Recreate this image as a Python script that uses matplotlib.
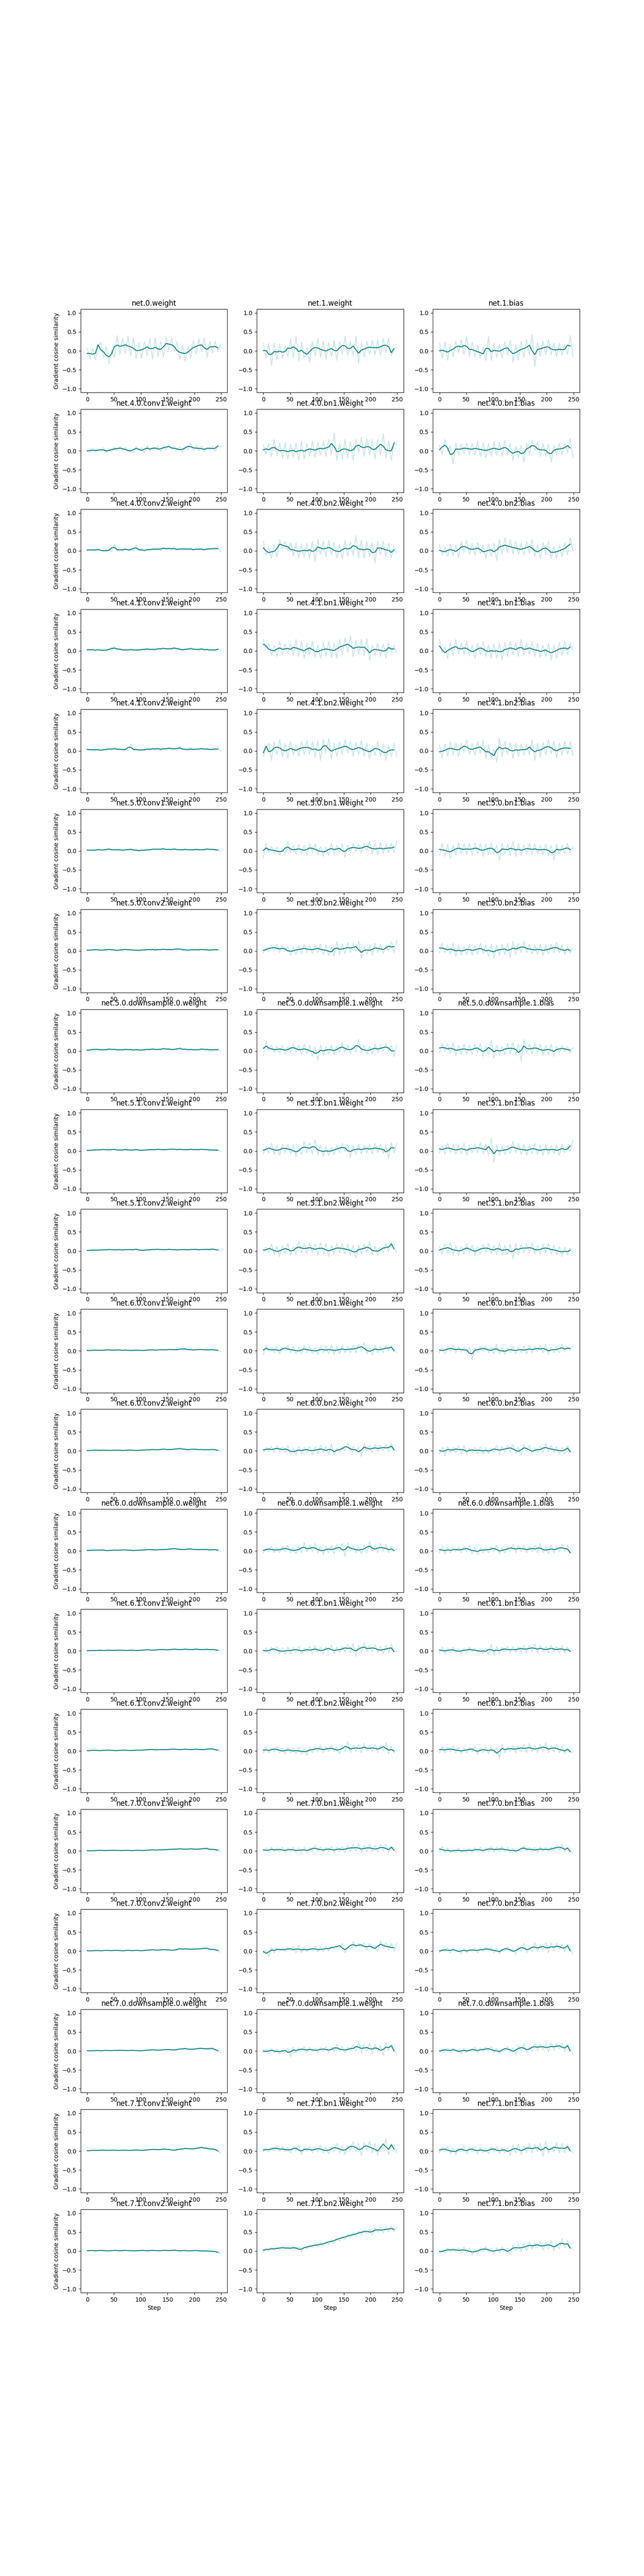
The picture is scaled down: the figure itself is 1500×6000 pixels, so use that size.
import matplotlib
matplotlib.use("Agg")
import matplotlib.pyplot as plt
import numpy as np

# gradient cosine similarity, every ~5 steps (x100)
net_0_weight = [7,-20,6,-24,10,22,-17,11,-35,3,-18,40,-10,34,-7,39,-14,34,-21,22,-20,25,-13,34,-23,35,-16,25,-17,38,1,34,-2,24,-23,15,-27,13,-20,26,-9,32,-3,34,-18,25,-5,26,-3,18]
net_1_weight = [20,-19,20,-38,20,-24,18,-20,13,-17,32,-19,40,-27,23,-20,10,-29,25,-14,32,-17,25,-22,21,-15,27,-25,25,-10,38,-12,25,-12,38,-33,20,-16,25,-9,28,-11,28,-12,33,-5,34,-12,2,10]
net_1_bias = [20,-20,23,-25,18,-16,25,-5,30,-10,38,-15,22,-15,15,-20,10,-26,38,-25,20,-18,18,-20,25,-12,28,-30,15,-25,25,-18,30,-12,42,-42,22,-15,25,-10,30,-10,20,-15,20,-12,18,-10,40,-15]

net_4_0_conv1_weight = [3,-4,6,-3,5,-2,8,-4,4,-3,10,0,12,2,9,-2,4,-5,12,0,8,-6,15,-1,10,3,12,-3,14,2,18,4,12,0,10,-4,12,3,20,2,14,0,13,-2,10,2,12,-1,15,10]
net_4_0_bn1_weight = [15,-10,20,-15,30,-12,20,-20,22,-22,18,-18,20,-25,25,-22,20,-15,25,-18,22,-12,25,-15,30,-10,48,-25,20,-22,30,-20,25,-25,30,-5,35,-15,32,-10,30,-22,30,-10,45,-20,25,-25,25,15]
net_4_0_bn1_bias = [15,-10,30,0,15,-35,20,-10,18,-8,22,-10,20,-12,25,-15,22,-18,20,-15,25,-12,22,-15,28,-10,20,-25,12,-18,15,-30,20,-10,28,0,25,-15,20,-15,18,-30,15,-12,20,-10,22,-5,33,-18]

net_4_0_conv2_weight = [4,0,5,-1,6,0,3,-3,5,-2,18,0,6,-2,8,0,6,-1,15,0,6,-2,5,0,7,1,8,0,10,3,9,2,10,1,7,2,8,1,9,0,7,1,8,0,7,2,9,1,12,-2]
net_4_0_bn2_weight = [25,-10,10,-20,15,-18,30,5,25,0,22,-15,20,-20,18,-18,20,-20,25,-28,30,-10,25,-15,28,-10,22,-20,18,-22,28,-15,25,-12,40,-18,28,-20,25,-15,22,-32,25,-10,25,-15,20,-18,10,-5]
net_4_0_bn2_bias = [15,-12,10,-15,18,-12,15,-18,25,-5,28,-10,20,-12,22,-8,15,-20,18,-15,20,-25,30,-10,35,-5,30,-8,25,-10,20,-12,25,-8,30,-15,15,-20,22,-10,25,-20,12,-20,15,-15,22,-10,35,0]

net_4_1_conv1_weight = [5,0,6,-1,5,0,4,-2,6,1,12,2,8,0,5,-1,6,0,5,-1,6,0,8,1,7,0,8,2,9,3,8,2,10,4,8,0,6,1,9,2,7,0,8,1,6,0,5,-1,6,2]
net_4_1_bn1_weight = [30,5,20,-12,15,-15,25,-10,18,-8,20,-12,30,-15,25,-20,20,-10,25,-18,15,-20,22,-15,25,-18,22,-20,30,-10,35,-5,40,-15,28,-10,30,-12,32,-25,15,-12,20,-15,18,-20,22,-5,15,-5]
net_4_1_bn1_bias = [30,-5,10,-20,22,-12,30,-8,20,-10,25,-12,15,-20,20,-10,25,-15,15,-18,18,-20,20,-25,22,-15,25,-10,22,-15,30,-12,20,-10,25,-15,20,-18,15,-15,20,-25,15,-20,22,-12,25,-10,20,0]

net_4_1_conv2_weight = [6,1,5,0,6,-1,5,0,8,1,9,2,7,1,6,0,18,1,6,0,5,-1,7,1,8,2,9,1,8,2,10,3,9,1,12,3,7,0,8,1,7,1,9,2,8,1,7,0,10,-2]
net_4_1_bn2_weight = [-15,5,20,-25,25,-10,30,-15,20,-20,25,-12,18,-15,25,-10,28,-10,25,-18,28,-25,30,-5,32,-22,20,-15,25,-10,30,-5,25,-15,22,-10,28,-15,20,-20,15,-12,25,-15,18,-25,15,-15,20,-15]
net_4_1_bn2_bias = [15,-20,18,-15,25,-12,22,-15,20,-5,30,-10,20,-12,25,-8,28,-20,15,-20,5,-30,35,-15,25,-10,22,-20,20,-15,18,-12,18,-10,30,-25,20,-18,22,-10,30,-8,25,-20,20,-12,25,-10,25,-12]

net_5_0_conv1_weight = [3,0,4,-1,5,1,4,0,8,1,5,0,6,-1,5,0,7,0,5,-2,4,-1,5,0,6,2,7,1,8,2,6,1,7,2,5,0,6,1,5,0,6,1,5,0,7,2,6,1,5,-2]
net_5_0_bn1_weight = [-18,20,-5,12,-8,10,-12,8,-10,25,-5,15,-10,18,-8,15,-12,20,-5,18,-10,12,-15,10,-12,20,-8,15,-5,18,-18,15,-5,20,-2,18,-5,20,0,25,-8,20,-10,22,-8,18,-5,20,-5,25]
net_5_0_bn1_bias = [-12,20,-15,18,-20,15,-12,22,-8,18,-10,20,-12,22,-8,20,-15,18,-10,22,-8,15,-25,20,-10,18,-12,25,-15,20,-12,15,-8,20,-10,18,-8,15,-10,18,-12,15,-25,18,-10,15,-8,20,-5,12]

net_5_0_conv2_weight = [3,0,4,1,5,0,4,0,6,1,5,-1,4,0,6,1,5,0,4,-1,4,0,5,1,6,0,5,1,6,2,5,1,6,2,8,1,5,0,4,1,5,0,6,1,5,0,4,1,5,0]
net_5_0_bn2_weight = [-5,8,-2,15,0,18,-5,15,-2,12,-12,10,-10,15,-8,18,-5,15,-8,15,-5,18,-10,15,-12,10,-15,25,-10,18,-8,22,-5,20,-2,25,-20,12,-10,15,-12,20,-5,18,-8,15,0,25,-5,28]
net_5_0_bn2_bias = [-5,20,-5,15,-10,20,-15,15,-12,12,-10,18,-12,15,-10,20,-8,15,-15,18,-20,15,-12,18,-10,20,-18,25,-10,20,-5,25,-5,18,-8,15,-10,18,-12,15,-10,18,-5,22,-5,15,-10,12,-5,8]

net_5_0_downsample_0_weight = [3,0,5,2,6,1,5,0,7,2,6,1,5,0,6,1,6,0,5,1,4,0,6,1,7,2,6,1,8,3,7,2,6,1,10,2,7,1,6,1,5,0,7,2,6,1,5,0,7,-2]
net_5_0_downsample_1_weight = [-12,25,0,15,-5,12,-5,15,-8,12,-5,20,-3,15,-10,18,-8,15,-15,12,-25,15,-12,12,-8,15,-10,12,-5,22,-2,15,-8,15,-2,30,-5,15,-10,12,-8,18,-5,15,-2,20,0,15,-15,15]
net_5_0_downsample_1_bias = [-5,20,-2,18,-8,22,-12,15,-10,18,-8,15,-10,18,-5,20,-15,12,-10,28,-20,15,-12,12,-10,20,-8,22,-10,18,-27,30,-5,18,-8,20,-5,18,-12,15,-10,18,-15,12,-5,15,-2,12,-5,8]

net_5_1_conv1_weight = [2,0,3,1,4,1,5,2,4,1,6,1,4,0,5,1,4,0,5,1,3,0,4,1,5,1,6,2,5,1,6,2,7,1,6,2,5,1,6,2,5,1,6,2,5,1,4,0,5,-2]
net_5_1_bn1_weight = [-8,12,-5,20,-10,15,-12,18,-5,18,-8,15,-15,10,-10,25,-5,22,-8,30,-10,15,-15,12,-12,10,-10,15,-5,20,-2,18,-18,15,-10,18,-8,15,-5,18,-8,20,-5,18,-8,15,-20,22,-5,20]
net_5_1_bn1_bias = [-5,15,-8,20,-5,18,-10,15,-8,20,-12,15,-5,18,-5,22,-8,18,-12,35,-30,15,-12,12,-10,15,-8,25,-5,20,-10,18,-12,15,-8,20,-10,15,-12,18,-10,15,-8,15,-12,18,-5,12,-2,28]

net_5_1_conv2_weight = [2,0,3,1,3,1,4,1,5,2,4,1,5,1,4,2,5,1,6,2,3,0,4,1,5,2,6,2,5,1,6,2,5,1,4,2,5,1,5,2,6,1,5,2,6,1,7,2,5,-1]
net_5_1_bn2_weight = [-5,10,-5,18,-10,12,-15,15,-8,20,-12,12,-10,25,-5,20,-8,22,-5,18,-10,22,-8,20,-15,15,-10,20,-5,20,-8,18,-12,15,-20,15,-8,18,-5,25,-10,12,-12,10,-5,20,-2,22,15,-5]
net_5_1_bn2_bias = [12,-8,18,-5,22,-10,15,-12,12,-10,20,-5,15,-12,10,-8,18,-5,20,-8,15,-10,22,-12,15,-10,18,-22,20,-10,18,-5,20,-5,22,-8,15,-10,18,-5,20,-8,15,-10,12,-15,10,-12,8,-5]

net_6_0_conv1_weight = [2,0,2,1,3,0,3,1,4,1,3,1,4,0,3,1,2,0,3,1,2,0,3,1,4,1,3,2,4,1,5,2,5,1,6,3,8,2,5,1,4,2,5,2,4,1,5,1,4,-2]
net_6_0_bn1_weight = [-10,15,-2,10,-5,12,-8,10,0,15,-5,12,-8,10,-10,15,-5,12,-8,10,-10,12,-5,12,-8,15,-10,12,-8,15,-5,12,-5,15,-5,18,0,22,-8,10,-12,15,-5,12,-5,15,0,15,5,-5]
net_6_0_bn1_bias = [-5,10,-8,12,-2,15,-5,12,-3,10,-5,10,-23,8,-5,12,-2,15,-5,10,-8,18,-8,10,-10,8,-5,12,-8,10,-5,12,-8,15,-5,12,-2,15,-5,18,-10,10,-5,12,-5,18,-2,12,2,12]

net_6_0_conv2_weight = [2,0,2,1,3,0,3,1,2,0,3,1,3,0,2,1,3,1,2,0,3,1,4,1,5,2,4,2,6,3,5,2,6,3,8,4,6,2,5,3,6,2,5,2,4,2,5,2,4,-2]
net_6_0_bn2_weight = [-5,10,-2,12,-5,15,-2,12,-5,15,-10,8,-12,12,-8,10,-5,12,-10,12,-8,15,-5,12,-10,18,-12,8,-5,12,0,22,-2,12,-5,10,-15,20,0,15,-5,18,-2,15,0,18,-2,20,5,0]
net_6_0_bn2_bias = [-8,10,-12,12,-5,10,-5,15,-8,15,-10,8,-5,10,-8,12,-10,10,-8,8,-5,15,-8,12,-5,15,-2,18,-8,10,-12,18,-2,15,-10,8,-5,12,-5,20,-2,15,-5,12,-8,10,-10,15,0,-5]

net_6_0_downsample_0_weight = [2,0,3,1,3,1,4,0,2,0,3,1,3,1,4,1,3,0,2,1,3,1,4,2,5,1,4,2,5,2,6,3,8,4,6,2,5,3,7,3,5,2,5,2,6,1,4,2,5,-2]
net_6_0_downsample_1_weight = [-5,8,-2,12,-5,10,-5,12,-2,15,-5,10,-8,12,-5,22,-3,15,-2,20,-5,12,-10,12,-5,15,-8,18,-2,20,-15,22,0,15,-5,12,-8,15,-5,25,0,15,-5,20,-2,18,-5,12,-2,5]
net_6_0_downsample_1_bias = [-5,12,-8,10,-5,8,-2,10,-5,12,-2,15,-8,10,-10,8,-5,10,-5,12,-2,15,-8,8,-5,12,-2,18,-5,15,-2,15,-5,12,-2,15,-5,20,-5,12,-8,15,-5,12,-2,18,-2,15,-5,-5]

net_6_1_conv1_weight = [1,0,2,0,2,1,2,0,3,1,2,1,3,1,2,0,3,1,2,0,3,1,4,2,3,1,4,2,5,2,4,2,6,3,5,2,6,3,5,2,6,3,5,2,6,2,5,2,4,-1]
net_6_1_bn1_weight = [-5,8,-8,10,-2,12,-8,8,-10,10,-8,10,-5,12,-8,8,-5,12,-8,15,-5,10,-8,12,-2,15,-8,10,-5,12,-2,18,-5,20,-15,15,-5,22,-2,15,-2,18,-5,12,-8,15,-5,18,-2,-2]
net_6_1_bn1_bias = [-5,10,-8,8,-5,10,-5,6,-8,8,-5,10,-2,8,-5,6,-8,8,-10,18,-12,12,-8,10,-2,12,-5,12,-5,12,-2,15,-5,15,-2,18,-5,15,-2,12,-5,15,-2,12,-5,15,-5,10,-2,0]

net_6_1_conv2_weight = [1,0,2,1,2,0,2,1,3,1,2,0,2,1,3,1,2,0,3,1,3,1,4,2,5,2,4,2,5,2,5,3,6,3,5,2,6,3,5,2,6,3,5,2,6,3,8,2,5,-2]
net_6_1_bn2_weight = [-5,10,-5,8,-2,12,-5,8,-8,10,-5,8,-8,10,-10,8,-12,10,-5,12,-2,15,-5,12,-2,15,-2,12,-8,15,-2,25,-5,15,-2,18,-5,20,0,15,-2,18,-5,15,0,22,-8,12,-5,5]
net_6_1_bn2_bias = [-5,12,-5,10,-2,12,-5,10,-8,8,-5,10,-2,12,-10,8,-5,12,-8,10,-5,8,-20,18,-5,12,-2,15,-5,15,-2,18,-5,20,-2,15,-5,18,-2,22,-5,15,-2,18,-5,12,-8,8,0,-5]

net_7_0_conv1_weight = [1,0,1,0,2,1,2,0,2,1,2,1,2,0,2,1,2,0,2,1,2,0,3,1,4,2,3,2,4,2,5,3,6,3,7,4,6,3,7,4,6,3,7,4,9,3,6,2,5,-2]
net_7_0_bn1_weight = [-2,8,-5,10,-2,8,-2,10,-5,8,-2,10,-5,8,-5,10,-5,8,-2,15,-2,12,-5,10,-2,12,-5,10,-2,12,-5,15,-2,18,-2,20,-5,15,-2,18,-2,15,-5,18,0,18,-5,12,8,-5]
net_7_0_bn1_bias = [-2,12,-5,8,-5,5,-5,8,-5,6,-5,8,-5,8,-2,10,-5,8,-2,12,-2,10,-2,12,-2,10,-5,8,-5,5,-2,15,0,10,-2,10,-5,12,-2,10,-2,10,0,15,2,18,-2,10,5,-8]

net_7_0_conv2_weight = [1,0,1,0,2,0,1,1,2,0,2,1,2,0,1,1,2,0,2,1,1,0,3,1,4,2,3,1,5,2,4,1,3,1,8,3,7,4,6,3,7,3,8,4,10,3,6,2,5,-4]
net_7_0_bn2_weight = [-5,2,-15,10,-5,8,0,8,-2,10,0,12,-5,15,-5,10,-2,8,0,12,-2,10,-2,12,0,12,5,15,8,20,-5,12,5,25,8,20,10,22,2,20,5,15,-2,27,8,22,2,20,-2,20]
net_7_0_bn2_bias = [-5,5,-2,8,-5,8,-2,5,-8,8,-5,5,-2,8,-5,8,-2,10,0,10,-5,8,-8,5,0,12,-2,8,-10,12,-2,20,-5,12,-2,22,-2,18,2,22,-5,22,0,20,5,18,-2,18,10,-10]

net_7_0_downsample_0_weight = [1,0,1,0,2,0,1,1,2,0,2,1,2,1,2,0,2,1,2,0,1,0,3,1,4,2,3,1,4,2,5,2,4,1,7,3,8,4,6,3,7,4,9,4,8,3,10,2,5,-5]
net_7_0_downsample_1_weight = [-5,5,-8,8,-5,5,-8,5,-5,8,-15,10,-5,8,-2,12,-5,10,-2,8,-5,10,-2,12,-5,10,-2,18,-2,12,-5,10,-2,15,-2,25,-5,18,-2,20,-8,18,-2,15,-12,20,0,18,10,-10]
net_7_0_downsample_1_bias = [-5,5,-2,8,-5,8,-2,5,-8,8,-5,5,-2,10,-5,8,-2,10,0,12,-5,8,-8,5,0,12,-2,8,-10,15,-2,20,-5,12,-2,22,0,20,2,20,-2,22,2,20,5,22,-2,18,10,-10]

net_7_1_conv1_weight = [1,0,2,1,2,1,3,1,2,1,3,1,2,1,3,1,2,1,3,2,2,1,3,2,5,3,5,2,6,4,5,2,3,1,6,3,8,5,7,4,8,5,12,6,10,3,8,2,6,-7]
net_7_1_bn1_weight = [-2,8,-2,10,0,15,-2,12,-2,10,-5,12,0,15,-10,10,-2,12,-5,10,-2,15,-5,10,-8,12,-2,20,-5,15,-10,15,0,25,-2,20,-12,22,2,25,-5,20,-12,12,5,32,-10,18,15,-5]
net_7_1_bn1_bias = [-5,10,-2,12,-8,8,-10,8,-2,12,-8,10,-2,12,-8,10,-5,8,-8,12,-2,12,-8,10,-5,10,-12,15,-5,18,-10,12,-5,20,-5,18,-2,20,-15,25,-5,12,-2,22,-5,20,-5,18,5,-5]

net_7_1_conv2_weight = [1,0,2,0,1,1,2,0,1,0,2,1,1,0,2,1,1,0,1,0,2,1,1,0,2,1,1,0,2,1,2,0,3,1,1,0,2,0,1,0,2,0,1,-1,1,-1,0,-2,-1,-7]
net_7_1_bn2_weight = [-3,7,0,9,2,10,3,13,4,12,3,12,5,11,-2,12,5,16,8,20,10,22,13,25,18,30,20,35,26,40,30,44,35,48,38,52,43,56,46,58,42,60,50,62,48,64,50,66,52,62]
net_7_1_bn2_bias = [-5,2,-5,8,-2,8,-2,8,-5,10,-5,8,-10,5,-8,8,-2,12,-2,8,-8,8,-5,10,-2,8,-10,15,0,18,-2,20,0,25,5,22,8,25,2,25,5,28,0,22,5,33,8,28,10,5]

panels = [
    ("net.0.weight", net_0_weight), ("net.1.weight", net_1_weight), ("net.1.bias", net_1_bias),
    ("net.4.0.conv1.weight", net_4_0_conv1_weight), ("net.4.0.bn1.weight", net_4_0_bn1_weight), ("net.4.0.bn1.bias", net_4_0_bn1_bias),
    ("net.4.0.conv2.weight", net_4_0_conv2_weight), ("net.4.0.bn2.weight", net_4_0_bn2_weight), ("net.4.0.bn2.bias", net_4_0_bn2_bias),
    ("net.4.1.conv1.weight", net_4_1_conv1_weight), ("net.4.1.bn1.weight", net_4_1_bn1_weight), ("net.4.1.bn1.bias", net_4_1_bn1_bias),
    ("net.4.1.conv2.weight", net_4_1_conv2_weight), ("net.4.1.bn2.weight", net_4_1_bn2_weight), ("net.4.1.bn2.bias", net_4_1_bn2_bias),
    ("net.5.0.conv1.weight", net_5_0_conv1_weight), ("net.5.0.bn1.weight", net_5_0_bn1_weight), ("net.5.0.bn1.bias", net_5_0_bn1_bias),
    ("net.5.0.conv2.weight", net_5_0_conv2_weight), ("net.5.0.bn2.weight", net_5_0_bn2_weight), ("net.5.0.bn2.bias", net_5_0_bn2_bias),
    ("net.5.0.downsample.0.weight", net_5_0_downsample_0_weight), ("net.5.0.downsample.1.weight", net_5_0_downsample_1_weight),
    ("net.5.0.downsample.1.bias", net_5_0_downsample_1_bias),
    ("net.5.1.conv1.weight", net_5_1_conv1_weight), ("net.5.1.bn1.weight", net_5_1_bn1_weight), ("net.5.1.bn1.bias", net_5_1_bn1_bias),
    ("net.5.1.conv2.weight", net_5_1_conv2_weight), ("net.5.1.bn2.weight", net_5_1_bn2_weight), ("net.5.1.bn2.bias", net_5_1_bn2_bias),
    ("net.6.0.conv1.weight", net_6_0_conv1_weight), ("net.6.0.bn1.weight", net_6_0_bn1_weight), ("net.6.0.bn1.bias", net_6_0_bn1_bias),
    ("net.6.0.conv2.weight", net_6_0_conv2_weight), ("net.6.0.bn2.weight", net_6_0_bn2_weight), ("net.6.0.bn2.bias", net_6_0_bn2_bias),
    ("net.6.0.downsample.0.weight", net_6_0_downsample_0_weight), ("net.6.0.downsample.1.weight", net_6_0_downsample_1_weight),
    ("net.6.0.downsample.1.bias", net_6_0_downsample_1_bias),
    ("net.6.1.conv1.weight", net_6_1_conv1_weight), ("net.6.1.bn1.weight", net_6_1_bn1_weight), ("net.6.1.bn1.bias", net_6_1_bn1_bias),
    ("net.6.1.conv2.weight", net_6_1_conv2_weight), ("net.6.1.bn2.weight", net_6_1_bn2_weight), ("net.6.1.bn2.bias", net_6_1_bn2_bias),
    ("net.7.0.conv1.weight", net_7_0_conv1_weight), ("net.7.0.bn1.weight", net_7_0_bn1_weight), ("net.7.0.bn1.bias", net_7_0_bn1_bias),
    ("net.7.0.conv2.weight", net_7_0_conv2_weight), ("net.7.0.bn2.weight", net_7_0_bn2_weight), ("net.7.0.bn2.bias", net_7_0_bn2_bias),
    ("net.7.0.downsample.0.weight", net_7_0_downsample_0_weight), ("net.7.0.downsample.1.weight", net_7_0_downsample_1_weight),
    ("net.7.0.downsample.1.bias", net_7_0_downsample_1_bias),
    ("net.7.1.conv1.weight", net_7_1_conv1_weight), ("net.7.1.bn1.weight", net_7_1_bn1_weight), ("net.7.1.bn1.bias", net_7_1_bn1_bias),
    ("net.7.1.conv2.weight", net_7_1_conv2_weight), ("net.7.1.bn2.weight", net_7_1_bn2_weight), ("net.7.1.bn2.bias", net_7_1_bn2_bias),
]

n_rows, n_cols = 20, 3
steps = np.linspace(0, 249, 50)

fig, axes = plt.subplots(n_rows, n_cols, figsize=(15, 60))
for idx, (name, vals) in enumerate(panels):
    ax = axes[idx // n_cols, idx % n_cols]
    raw = np.asarray(vals) / 100.0
    # running mean of neighbouring points
    smooth = np.convolve(raw, [0.5, 0.5], mode="valid")
    ax.plot(steps, raw, color="teal", alpha=0.2)
    ax.plot(steps[: len(smooth)], smooth, color="teal", linewidth=1.5)
    ax.set_title(name)
    ax.set_ylim(-1.1, 1.1)
    ax.set_xlim(-12.45, 261.45)
    if idx % n_cols == 0:
        ax.set_ylabel("Gradient cosine similarity")
    if idx // n_cols == n_rows - 1:
        ax.set_xlabel("Step")

fig.savefig("out.png", dpi=100)
